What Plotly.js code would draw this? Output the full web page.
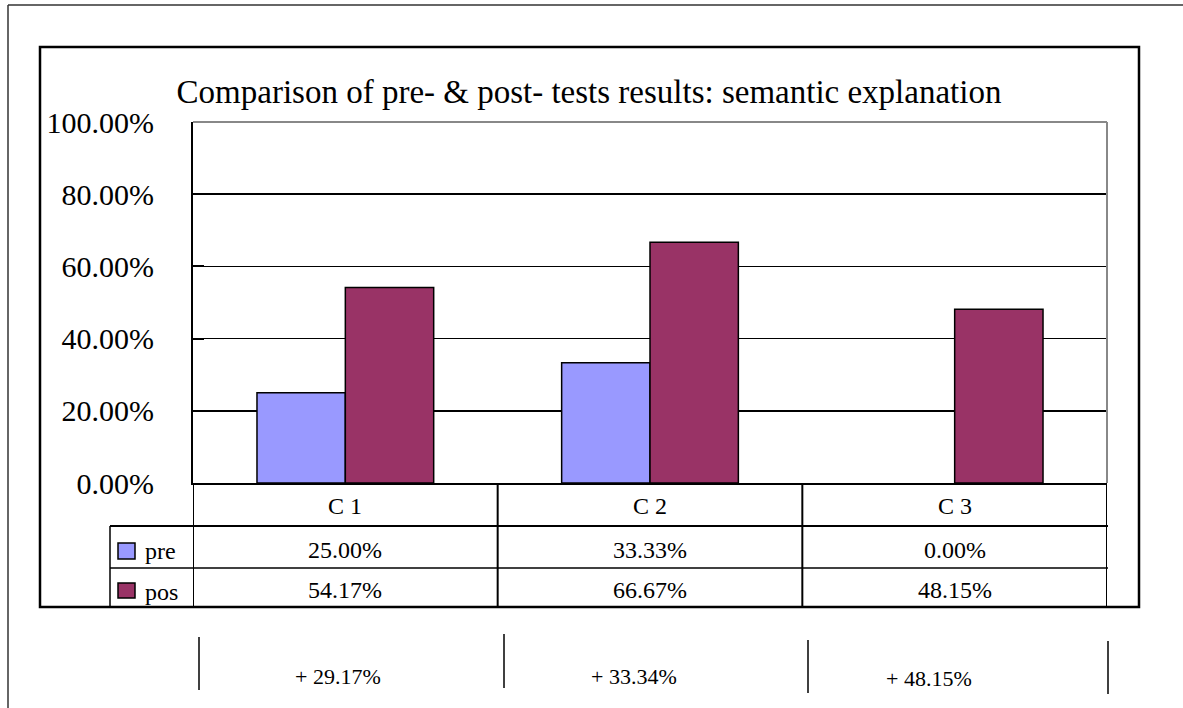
<!DOCTYPE html>
<html><head><meta charset="utf-8">
<script src="https://cdn.plot.ly/plotly-3.0.1.min.js"></script>
<style>html,body{margin:0;padding:0;background:#fff;}#chart{width:1183px;height:708px;}</style>
</head><body><div id="chart"></div>
<script>
const categories = ['C1', 'C2', 'C3'];
const seriesNames = ['pre', 'pos'];
const preValues = [0.25, 0.3333, 0.0];
const posValues = [0.5417, 0.6667, 0.4815];
const gainLabels = ['+ 29.17%', '+ 33.34%', '+ 48.15%'];
const titleText = 'Comparison of pre- & post- tests results: semantic explanation';

const W = 1183, H = 708;
const px = x => x / W;
const py = y => 1 - y / H;
const serif = 'Liberation Serif';
const preColor = '#9999FF', posColor = '#993366';

const fmt = v => (v * 100).toFixed(2) + '%';

const traces = [
  {type: 'bar', name: seriesNames[0], x: categories, y: preValues,
   marker: {color: preColor, line: {color: '#000', width: preValues.map(v => v > 0 ? 1.5 : 0)}}, hoverinfo: 'skip'},
  {type: 'bar', name: seriesNames[1], x: categories, y: posValues,
   marker: {color: posColor, line: {color: '#000', width: posValues.map(v => v > 0 ? 1.5 : 0)}}, hoverinfo: 'skip'}
];

const shapes = [];
const line = (x0, y0, x1, y1, w, c) => shapes.push({type: 'line', xref: 'paper', yref: 'paper',
  x0: px(x0), y0: py(y0), x1: px(x1), y1: py(y1), line: {color: c || '#000', width: w || 1.5}});
// outer page frame
line(8, 5, 1183, 5, 1.5, '#333');
line(8, 5, 8, 708, 1.5, '#333');
// chart frame
shapes.push({type: 'rect', xref: 'paper', yref: 'paper', x0: px(40), y0: py(607), x1: px(1139), y1: py(47),
  line: {color: '#000', width: 2.5}});
// plot area border (gray top/right)
line(193, 122, 1107, 122, 2, '#888');
line(1107, 122, 1107, 483, 2, '#888');
// data table horizontal lines
line(110, 526, 1108, 526, 2);
line(110, 568, 1108, 568, 1.5);
line(110, 526, 110, 607, 1.5);
// data table vertical lines at category boundaries
[-0.5, 0.5, 1.5, 2.5].forEach(b => shapes.push({type: 'line', xref: 'x', yref: 'paper',
  x0: b, x1: b, y0: py(483), y1: py(607), line: {color: '#000', width: 2}}));
// legend keys
shapes.push({type: 'rect', xref: 'paper', yref: 'paper', x0: px(118), x1: px(135), y0: py(559), y1: py(543),
  fillcolor: preColor, line: {color: '#000', width: 1.5}});
shapes.push({type: 'rect', xref: 'paper', yref: 'paper', x0: px(118), x1: px(135), y0: py(598), y1: py(583),
  fillcolor: posColor, line: {color: '#000', width: 1.5}});
// bottom separate table lines
line(199, 637, 199, 690, 1.5);
line(504, 634, 504, 688, 1.5);
line(808, 640, 808, 693, 1.5);
line(1108, 641, 1108, 694, 1.5);

const annotations = [];
const tfont = {family: serif, size: 24, color: '#000'};
categories.forEach((c, i) => {
  annotations.push({xref: 'x', yref: 'paper', x: i, y: py(506), text: c.replace(/(\D)(\d)/, '$1 $2'),
    showarrow: false, font: tfont, xanchor: 'center', yanchor: 'middle'});
  annotations.push({xref: 'x', yref: 'paper', x: i, y: py(550), text: fmt(preValues[i]),
    showarrow: false, font: tfont, xanchor: 'center', yanchor: 'middle'});
  annotations.push({xref: 'x', yref: 'paper', x: i, y: py(590), text: fmt(posValues[i]),
    showarrow: false, font: tfont, xanchor: 'center', yanchor: 'middle'});
});
annotations.push({xref: 'paper', yref: 'paper', x: px(143), y: py(551), text: seriesNames[0],
  showarrow: false, font: tfont, xanchor: 'left', yanchor: 'middle'});
annotations.push({xref: 'paper', yref: 'paper', x: px(143), y: py(592), text: seriesNames[1],
  showarrow: false, font: tfont, xanchor: 'left', yanchor: 'middle'});
const gainX = [338, 634, 929], gainY = [676, 676, 678];
gainLabels.forEach((g, i) => annotations.push({xref: 'paper', yref: 'paper', x: px(gainX[i]), y: py(gainY[i]),
  text: g, showarrow: false, font: {family: serif, size: 22, color: '#000'}, xanchor: 'center', yanchor: 'middle'}));

const layout = {
  width: W, height: H,
  margin: {l: 0, r: 0, t: 0, b: 0},
  paper_bgcolor: '#fff', plot_bgcolor: '#fff',
  font: {family: serif, color: '#000'},
  showlegend: false,
  barmode: 'group', bargap: 0.42, bargroupgap: 0,
  title: {text: titleText, x: px(589), y: py(91), xanchor: 'center', yanchor: 'middle',
    font: {family: serif, size: 33, color: '#000'}},
  xaxis: {domain: [px(193), px(1107)], range: [-0.5, 2.5], showticklabels: false, ticks: '',
    showgrid: false, zeroline: false, showline: true, linecolor: '#000', linewidth: 2, fixedrange: true},
  yaxis: {domain: [py(483), py(122)], range: [0, 1], tickvals: [0, 0.2, 0.4, 0.6, 0.8, 1.0],
    tickformat: '.2%', ticks: 'inside', ticklen: 11, tickwidth: 2, tickcolor: '#000',
    showgrid: true, gridcolor: '#000', gridwidth: 1.5, zeroline: false,
    showline: true, linecolor: '#000', linewidth: 2, ticklabelstandoff: 31,
    tickfont: {family: serif, size: 30, color: '#000'}, automargin: false, fixedrange: true},
  shapes: shapes, annotations: annotations
};
Plotly.newPlot('chart', traces, layout, {staticPlot: true, displayModeBar: false});
</script></body></html>
